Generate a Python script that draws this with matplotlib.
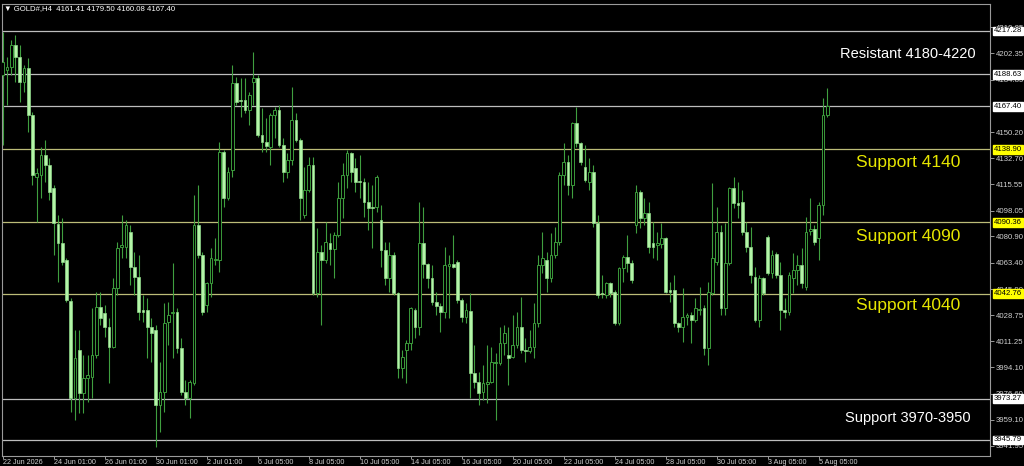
import matplotlib
matplotlib.use("Agg")
import matplotlib.pyplot as plt
import numpy as np

# ---------------- data (GOLD#, H4) ----------------
opens = [
 4188.1,4191.4,4193.6,4208.0,4199.8,4183.7,4192.5,4161.5,4120.6,4121.7,
 4135.0,4128.4,4112.9,4089.2,4076.3,4065.3,4038.1,3973.4,4005.5,3976.8,
 3986.7,3987.8,4002.2,4034.3,4029.9,4021.0,4007.7,4046.5,4074.1,4074.1,
 4084.1,4060.9,4054.2,4032.1,4032.1,4021.0,4018.8,3969.0,3977.9,4024.3,
 4029.9,4031.0,4006.6,3977.9,3973.4,3983.4,4088.5,4068.6,4035.4,4049.8,
 4065.3,4065.3,4137.2,4106.2,4125.0,4182.6,4171.5,4171.5,4164.9,4183.7,
 4185.9,4148.3,4143.8,4140.5,4161.5,4164.9,4141.6,4123.9,4131.7,4158.2,
 4144.9,4095.2,4111.8,4128.4,4043.2,4070.8,4065.3,4076.3,4072.6,4081.9,
 4106.2,4121.7,4136.1,4126.1,4117.3,4117.3,4104.0,4100.7,4100.7,4091.8,
 4071.9,4053.1,4068.6,4043.2,3993.4,4005.5,4009.9,4032.1,4021.0,4076.3,
 4062.4,4053.1,4037.6,4035.0,4030.5,4061.5,4062.4,4064.2,4038.7,4027.7,
 4031.4,3990.0,3984.5,3977.9,3982.7,3984.5,3996.9,3996.7,4009.9,4002.2,
 4001.1,4008.8,4021.0,4005.5,4004.9,4007.7,4023.2,4062.0,4065.3,4053.1,
 4068.6,4077.5,4121.7,4130.6,4115.1,4156.0,4142.7,4127.2,4117.3,4123.9,
 4089.6,4043.2,4042.1,4049.8,4044.3,4023.2,4059.8,4067.5,4063.1,4088.5,
 4110.6,4092.9,4096.3,4076.3,4075.2,4075.7,4079.7,4045.4,4045.4,4023.2,
 4021.0,4027.7,4028.8,4025.5,4032.1,4033.2,4006.6,4043.2,4064.2,4084.1,
 4033.2,4063.1,4112.9,4102.9,4104.0,4084.1,4074.1,4054.2,4025.5,4053.1,
 4080.8,4056.4,4069.0,4055.3,4032.1,4030.5,4053.6,4058.6,4062.0,4047.6,
 4084.5,4085.9,4079.7,4101.8,4161.41]
highs = [
 4216.9,4200.3,4211.3,4214.7,4208.0,4194.7,4199.2,4163.8,4126.1,4140.5,
 4144.9,4132.8,4115.1,4095.2,4092.9,4066.4,4039.8,4018.8,4018.8,4002.2,
 4002.2,4033.2,4044.3,4044.3,4035.4,4026.6,4053.1,4077.5,4095.2,4091.8,
 4088.5,4070.8,4068.6,4042.1,4039.8,4026.6,4022.1,3997.8,4036.5,4037.6,
 4063.1,4033.2,4013.3,3985.6,3985.6,4108.4,4115.1,4070.8,4050.9,4073.0,
 4079.7,4143.8,4138.3,4127.2,4194.7,4187.0,4185.9,4185.9,4177.0,4203.6,
 4188.1,4166.0,4159.3,4162.7,4167.1,4168.2,4146.1,4136.1,4180.4,4162.7,
 4146.1,4127.2,4133.9,4133.9,4086.3,4075.2,4090.7,4083.0,4084.1,4117.3,
 4129.5,4138.3,4137.2,4132.8,4135.0,4119.5,4117.3,4115.1,4121.7,4101.8,
 4077.5,4077.5,4070.8,4044.3,4005.5,4012.2,4034.3,4033.2,4104.0,4100.7,
 4063.1,4062.0,4044.3,4036.5,4074.1,4068.6,4081.9,4065.3,4039.8,4036.5,
 4043.2,4008.8,3991.1,3995.6,4008.8,4007.7,4003.3,4021.0,4022.1,4021.0,
 4028.8,4031.0,4040.9,4013.3,4018.8,4036.5,4068.6,4084.1,4070.8,4083.0,
 4087.4,4123.9,4142.7,4135.0,4157.1,4167.1,4143.8,4141.6,4132.8,4128.4,
 4095.2,4055.3,4050.9,4050.9,4045.4,4060.9,4068.6,4081.9,4065.3,4115.1,
 4111.8,4106.2,4104.0,4090.7,4084.1,4089.6,4080.8,4050.9,4055.3,4024.3,
 4046.5,4029.9,4031.0,4039.8,4047.6,4035.4,4050.9,4116.2,4100.7,4088.5,
 4089.6,4114.0,4120.6,4117.3,4111.8,4090.7,4087.4,4060.9,4055.3,4054.2,
 4081.9,4071.9,4070.8,4064.2,4039.8,4057.5,4069.7,4068.6,4073.0,4094.1,
 4106.2,4088.5,4104.0,4172.6,4179.50]
lows = [
 4141.6,4168.2,4188.1,4183.7,4170.4,4177.0,4150.5,4115.1,4090.7,4106.2,
 4117.3,4105.1,4068.6,4050.9,4062.0,4037.6,3964.6,3959.1,3963.5,3963.5,
 3971.2,3973.4,4000.0,4022.1,4014.4,3983.4,4006.6,4042.1,4066.4,4066.4,
 4048.7,4042.1,4025.5,4024.4,4000.0,3997.8,3941.4,3951.3,3964.6,4008.9,
 4000.0,4003.3,3975.7,3969.0,3960.2,3982.3,4066.4,4028.8,4031.0,4040.9,
 4061.9,4057.5,4100.7,4105.1,4120.6,4168.2,4160.4,4162.7,4154.9,4168.2,
 4147.2,4137.2,4137.2,4128.4,4146.1,4140.5,4117.3,4119.5,4128.4,4143.8,
 4091.8,4093.0,4110.6,4042.1,4040.9,4022.1,4063.1,4062.0,4053.1,4080.8,
 4092.9,4112.9,4117.3,4110.6,4106.2,4094.1,4085.2,4073.0,4097.4,4060.9,
 4048.7,4044.3,4042.1,3986.7,3986.7,3983.4,4005.5,4013.3,4015.5,4053.1,
 4046.5,4035.4,4028.8,4017.7,4026.6,4026.6,4059.8,4036.5,4024.4,4023.2,
 3973.4,3980.1,3969.0,3972.3,3970.1,3983.4,3959.1,3995.6,4002.2,3982.3,
 4000.0,4006.6,4003.3,3997.8,4003.3,4000.0,4021.0,4056.4,4044.3,4050.9,
 4066.4,4075.2,4115.1,4108.4,4106.2,4140.5,4128.4,4117.3,4111.8,4087.4,
 4039.8,4039.8,4039.8,4041.0,4022.1,4022.1,4050.9,4057.5,4049.8,4083.0,
 4086.3,4088.5,4069.7,4066.4,4065.3,4073.5,4043.2,4037.6,4021.0,4017.7,
 4011.1,4022.1,4010.0,4024.4,4028.8,4002.2,3995.6,4042.1,4062.0,4028.8,
 4028.8,4062.0,4099.6,4092.9,4081.9,4070.8,4049.8,4024.4,4021.0,4042.1,
 4055.3,4053.1,4053.1,4018.8,4026.6,4028.8,4043.2,4048.7,4046.5,4045.4,
 4081.9,4075.2,4065.3,4095.2,4160.08]
closes = [
 4197.0,4193.6,4208.0,4200.3,4183.7,4192.5,4161.5,4121.7,4122.8,4135.0,
 4128.4,4110.6,4089.6,4076.3,4064.2,4038.7,3973.4,4000.0,3976.8,3986.7,
 3988.9,4002.2,4034.3,4026.6,4021.0,4007.7,4046.5,4073.0,4075.2,4088.5,
 4060.9,4054.2,4031.0,4031.0,4021.0,4016.6,3969.0,3977.9,4023.2,4028.8,
 4030.5,4006.6,3977.9,3973.4,3984.5,4088.5,4068.6,4031.0,4049.8,4066.4,
 4065.7,4137.2,4106.2,4123.9,4182.6,4170.4,4170.8,4164.9,4174.8,4185.9,
 4148.3,4143.8,4141.2,4161.5,4164.9,4141.6,4123.9,4131.7,4158.2,4144.9,
 4106.2,4111.8,4128.4,4043.2,4070.8,4065.3,4077.5,4072.6,4081.9,4106.2,
 4121.7,4136.1,4123.9,4117.3,4116.8,4104.0,4100.0,4100.0,4120.6,4071.9,
 4053.1,4068.6,4043.2,3993.4,4001.1,4009.9,4033.2,4021.0,4076.3,4062.4,
 4053.1,4037.6,4035.0,4030.5,4062.0,4062.4,4060.9,4038.7,4027.7,4032.1,
 3990.0,3984.5,3976.8,3983.4,3984.5,3997.8,3997.8,4009.9,4016.6,4000.0,
 4008.8,4021.0,4005.5,4004.9,4007.7,4023.2,4062.0,4066.4,4053.1,4068.6,
 4077.5,4121.7,4130.6,4115.1,4156.0,4142.7,4130.6,4118.4,4123.9,4089.6,
 4042.1,4042.5,4049.8,4043.2,4023.2,4059.8,4067.5,4063.1,4052.0,4110.6,
 4092.9,4096.3,4074.1,4074.1,4076.3,4079.7,4044.3,4044.3,4023.2,4021.0,
 4027.7,4028.8,4025.5,4033.2,4032.8,4006.6,4044.3,4066.4,4084.1,4033.2,
 4063.1,4112.9,4102.9,4101.8,4084.1,4074.1,4055.3,4025.5,4053.1,4043.2,
 4056.4,4068.6,4055.3,4032.1,4030.5,4055.3,4058.6,4062.0,4049.8,4084.1,
 4085.9,4077.5,4101.8,4161.5,4167.40]

date_labels = ["22 Jun 2026", "24 Jun 01:00", "26 Jun 01:00", "30 Jun 01:00",
               "2 Jul 01:00", "6 Jul 05:00", "8 Jul 05:00", "10 Jul 05:00",
               "14 Jul 05:00", "16 Jul 05:00", "20 Jul 05:00", "22 Jul 05:00",
               "24 Jul 05:00", "28 Jul 05:00", "30 Jul 05:00", "3 Aug 05:00",
               "5 Aug 05:00"]
label_step = 12

price_ticks = [4219.85, 4202.35, 4184.85, 4150.20, 4132.70, 4115.55,
               4098.05, 4080.90, 4063.40, 4045.90, 4028.75, 4011.25, 3994.10,
               3976.60, 3959.10, 3941.95]

gray_levels = [4217.28, 4188.63, 4167.40, 3973.27, 3945.79]
yellow_levels = [4138.90, 4090.36, 4042.76]

annotations = [("Resistant 4180-4220", 4202.0, "white", 10.5),
               ("Support 4140", 4130.3, "#e6e600", 12.5),
               ("Support 4090", 4081.2, "#e6e600", 12.5),
               ("Support 4040", 4035.4, "#e6e600", 12.5),
               ("Support 3970-3950", 3960.4, "white", 10.5)]

title = "\u25bc GOLD#,H4  4161.41 4179.50 4160.08 4167.40"

# ---------------- figure ----------------
W, H = 1024, 466
fig = plt.figure(figsize=(W / 100, H / 100), dpi=100, facecolor="black")
ax_left, ax_right, ax_top, ax_bot = 2, 990, 4, 456
ax = fig.add_axes([ax_left / W, (H - ax_bot) / H, (ax_right - ax_left) / W,
                   (ax_bot - ax_top) / H])
ax.set_facecolor("black")

FONT = ["Liberation Sans", "DejaVu Sans"]

o = np.array(opens); h = np.array(highs); l = np.array(lows); c = np.array(closes)
x = np.arange(len(c))
bull = c >= o

wick_col = "#3f9f3f"
ax.vlines(x, l, h, color=wick_col, linewidth=0.8, zorder=3)
body_bot = np.minimum(o, c)
body_h = np.maximum(np.abs(c - o), 0.6)
ax.bar(x[bull], body_h[bull], bottom=body_bot[bull], width=0.68,
       color="black", edgecolor="#3a9a3a", linewidth=0.7, zorder=4)
ax.bar(x[~bull], body_h[~bull], bottom=body_bot[~bull], width=0.68,
       color="#b4f5a8", edgecolor="#8fd88a", linewidth=0.5, zorder=4)

# levels
for lv in gray_levels:
    ax.axhline(lv, color="#bdbdbd", linewidth=0.9, zorder=2)
for lv in yellow_levels:
    ax.axhline(lv, color="#bcbc78", linewidth=0.9, zorder=2)

px_per_bar = 4.25
x0_px = 2.7
ax.set_xlim((ax_left - x0_px) / px_per_bar, (ax_right - x0_px) / px_per_bar)
ppu = 1.5065
ax.set_ylim(4217.28 - (ax_bot - 31) / ppu, 4217.28 + (31 - ax_top) / ppu)

for sp in ax.spines.values():
    sp.set_color("#9a9a9a")
    sp.set_linewidth(0.8)

# x ticks
ax.set_xticks(np.arange(len(date_labels)) * label_step)
ax.set_xticklabels(date_labels, fontsize=5.2, color="#d0d0d0", ha="left",
                   family=FONT)
ax.tick_params(axis="x", colors="#9a9a9a", length=2, width=0.7, pad=0.3,
               labelcolor="#d0d0d0", direction="out")

# y ticks on right
ax.yaxis.tick_right()
ax.set_yticks(price_ticks)
ax.set_yticklabels([f"{v:.2f}" for v in price_ticks], fontsize=5.6,
                   color="#d0d0d0", family=FONT)
ax.tick_params(axis="y", colors="#9a9a9a", length=3, width=0.7, pad=1,
               labelcolor="#d0d0d0", direction="out")

# price level boxes
for lv in gray_levels:
    ax.annotate(f"{lv:.2f}", xy=(1.0, lv), xycoords=("axes fraction", "data"),
                xytext=(3, 0), textcoords="offset points", fontsize=5.6,
                family=FONT, color="black", va="center", ha="left",
                bbox=dict(boxstyle="square,pad=0.12", fc="white", ec="white"),
                annotation_clip=False, zorder=10)
for lv in yellow_levels:
    ax.annotate(f"{lv:.2f}", xy=(1.0, lv), xycoords=("axes fraction", "data"),
                xytext=(3, 0), textcoords="offset points", fontsize=5.6,
                family=FONT, color="black", va="center", ha="left",
                bbox=dict(boxstyle="square,pad=0.12", fc="#ffff00", ec="#ffff00"),
                annotation_clip=False, zorder=10)

# annotations
for txt, yv, col, fs in annotations:
    ax.text(213.0, yv, txt, color=col, fontsize=fs, family=FONT,
            ha="center", va="center", zorder=6)

fig.text(4 / W, 1 - 8.5 / H, title, color="white", fontsize=5.6, family=FONT,
         va="center", ha="left")

fig.savefig("out.png", dpi=100, facecolor="black")
